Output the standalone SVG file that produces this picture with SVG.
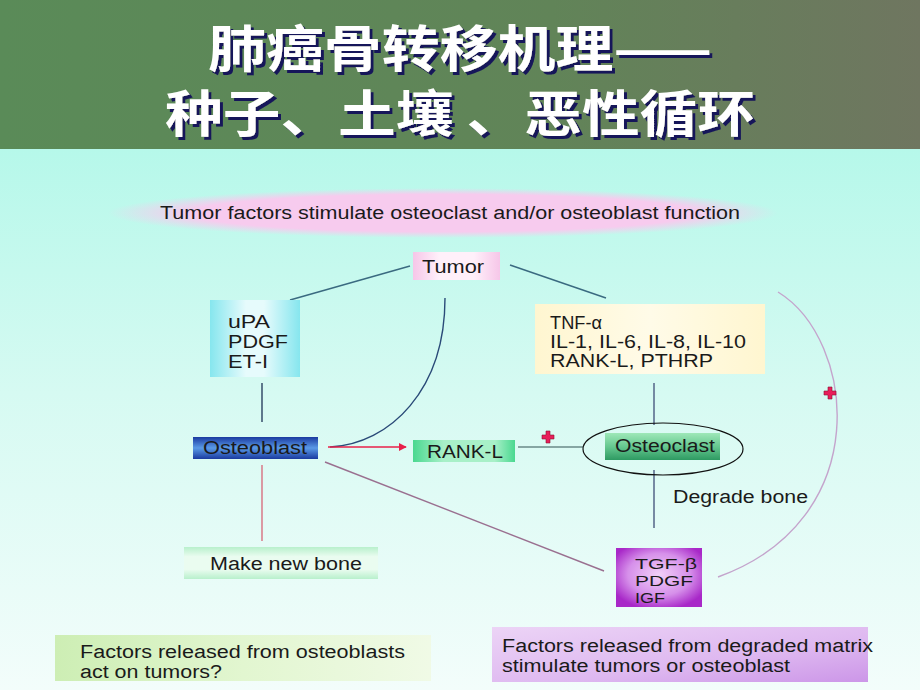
<svg xmlns="http://www.w3.org/2000/svg" width="920" height="690" viewBox="0 0 920 690">
<defs>
<linearGradient id="hdr" x1="0" y1="0" x2="1" y2="0">
<stop offset="0" stop-color="#5a8b58"/><stop offset="0.6" stop-color="#618458"/><stop offset="1" stop-color="#6f7660"/>
</linearGradient>
<linearGradient id="bg" x1="0" y1="0" x2="0" y2="1">
<stop offset="0" stop-color="#b6f8ea"/><stop offset="0.45" stop-color="#d6faf2"/><stop offset="1" stop-color="#f3fdfb"/>
</linearGradient>
<radialGradient id="pinkEll" cx="0.5" cy="0.5" r="0.5">
<stop offset="0.75" stop-color="#f7cbee"/><stop offset="1" stop-color="#f7cbee" stop-opacity="0"/>
</radialGradient>
<linearGradient id="pinkBox" x1="0" y1="0" x2="1" y2="0">
<stop offset="0" stop-color="#f6c6e8"/><stop offset="0.3" stop-color="#fff0fa"/><stop offset="0.7" stop-color="#fff0fa"/><stop offset="1" stop-color="#f6c6e8"/>
</linearGradient>
<linearGradient id="cyanBox" x1="0" y1="0" x2="1" y2="0">
<stop offset="0" stop-color="#86e6ee"/><stop offset="0.4" stop-color="#e6fbfc"/><stop offset="0.6" stop-color="#e6fbfc"/><stop offset="1" stop-color="#86e6ee"/>
</linearGradient>
<linearGradient id="blueBox" x1="0" y1="0" x2="0" y2="1">
<stop offset="0" stop-color="#1a3aa0"/><stop offset="0.5" stop-color="#5a9ae6"/><stop offset="1" stop-color="#1a3aa0"/>
</linearGradient>
<linearGradient id="greenBox" x1="0" y1="0" x2="1" y2="0">
<stop offset="0" stop-color="#4ad890"/><stop offset="0.3" stop-color="#a8f0c8"/><stop offset="0.8" stop-color="#a8f0c8"/><stop offset="1" stop-color="#4ad890"/>
</linearGradient>
<linearGradient id="ocBox" x1="0" y1="0" x2="0" y2="1">
<stop offset="0" stop-color="#9ee8b8"/><stop offset="0.5" stop-color="#66c890"/><stop offset="1" stop-color="#2e9a62"/>
</linearGradient>
<linearGradient id="yelBox" x1="0" y1="0" x2="1" y2="0">
<stop offset="0" stop-color="#fff6d0"/><stop offset="0.5" stop-color="#fffbe8"/><stop offset="1" stop-color="#fff6d0"/>
</linearGradient>
<radialGradient id="purBox" cx="0.5" cy="0.45" r="0.6">
<stop offset="0" stop-color="#f2d0f8"/><stop offset="0.6" stop-color="#d690ea"/><stop offset="1" stop-color="#a828c8"/>
</radialGradient>
<linearGradient id="newBone" x1="0" y1="0" x2="0" y2="1">
<stop offset="0" stop-color="#b8f0cc"/><stop offset="0.3" stop-color="#eafcf0"/><stop offset="0.7" stop-color="#eafcf0"/><stop offset="1" stop-color="#b8f0cc"/>
</linearGradient>
<linearGradient id="leftNote" x1="0" y1="0" x2="1" y2="0">
<stop offset="0" stop-color="#cdeeb4"/><stop offset="0.5" stop-color="#e2f6d0"/><stop offset="1" stop-color="#f0fae6"/>
</linearGradient>
<linearGradient id="rightNote" x1="0" y1="0" x2="1" y2="1">
<stop offset="0" stop-color="#ecd4f6"/><stop offset="0.6" stop-color="#deb8f0"/><stop offset="1" stop-color="#cc96e8"/>
</linearGradient>
<filter id="shadow" x="-5%" y="-10%" width="110%" height="130%">
<feDropShadow dx="3" dy="3" stdDeviation="0.6" flood-color="#14145a" flood-opacity="1"/>
</filter>
<marker id="redArrow" viewBox="0 0 10 10" refX="9" refY="5" markerWidth="8" markerHeight="8" markerUnits="userSpaceOnUse" orient="auto">
<path d="M0,0 L10,5 L0,10 z" fill="#e8204a"/>
</marker>
<g id="plus">
<path d="M-2,-6 h4 v4 h4 v4 h-4 v4 h-4 v-4 h-4 v-4 h4 z" fill="#e81e5a" stroke="#8a1030" stroke-width="0.6"/>
</g>
</defs>
<style>
.t{font-family:"Liberation Sans",Arial,sans-serif;font-size:18px;fill:#1a1a1a}
.small{font-size:15px}
.title{font-family:"Noto Sans CJK SC","Noto Sans CJK TC",sans-serif;font-size:50px;font-weight:bold;text-anchor:middle;fill:#ffffff}
.line{fill:none;stroke-width:1.4}
</style>

<rect x="0" y="0" width="920" height="149" fill="url(#hdr)"/>
<rect x="0" y="149" width="920" height="541" fill="url(#bg)"/>

<g id="title" filter="url(#shadow)">
<text class="title" x="460" y="67" textLength="504" lengthAdjust="spacingAndGlyphs">肺癌骨转移机理——</text>
<text class="title" x="460" y="132" textLength="590" lengthAdjust="spacingAndGlyphs">种子、土壤 、恶性循环</text>
</g>

<g id="connectors">
<path class="line" d="M410,266 L290,300" stroke="#3a6a80"/>
<path class="line" d="M510,265 L606,298" stroke="#3a6a80"/>
<path class="line" d="M445,298 C445,390 390,444 330,447" stroke="#2a4a78"/>
<path class="line" d="M262,383 L262,422" stroke="#2a4060" stroke-width="2"/>
<path class="line" d="M328,447 L406,447" stroke="#e8204a" stroke-width="1.6" marker-end="url(#redArrow)"/>
<path class="line" d="M518,447 L583,447" stroke="#6a8a88"/>
<path class="line" d="M654,383 L654,425" stroke="#4a5a80" stroke-width="2"/>
<path class="line" d="M654,470 L654,528" stroke="#4a5a80" stroke-width="2"/>
<path class="line" d="M325,462 L604,571" stroke="#9a7090"/>
<path class="line" d="M262,465 L262,541" stroke="#d87080" stroke-width="2"/>
<path class="line" d="M778,292 C856,340 876,520 718,577" stroke="#c4a4cc" stroke-width="1.6"/>
<use href="#plus" x="548" y="437"/>
<use href="#plus" x="830" y="393"/>
</g>

<g id="header-ellipse">
<ellipse cx="443" cy="213" rx="335" ry="25" fill="url(#pinkEll)"/>
<text class="t" x="160" y="219" textLength="580" lengthAdjust="spacingAndGlyphs">Tumor factors stimulate osteoclast and/or osteoblast function</text>
</g>

<g id="tumor">
<rect x="413" y="252" width="87" height="28" fill="url(#pinkBox)"/>
<text class="t" x="422" y="273" textLength="62" lengthAdjust="spacingAndGlyphs">Tumor</text>
</g>

<g id="upa">
<rect x="210" y="300" width="90" height="77" fill="url(#cyanBox)"/>
<text class="t" x="228" y="328" textLength="42" lengthAdjust="spacingAndGlyphs">uPA</text>
<text class="t" x="228" y="348" textLength="60" lengthAdjust="spacingAndGlyphs">PDGF</text>
<text class="t" x="228" y="368" textLength="40" lengthAdjust="spacingAndGlyphs">ET-I</text>
</g>

<g id="tnf">
<rect x="535" y="304" width="230" height="70" fill="url(#yelBox)"/>
<text class="t" x="550" y="329" textLength="52" lengthAdjust="spacingAndGlyphs">TNF-α</text>
<text class="t" x="550" y="348" textLength="196" lengthAdjust="spacingAndGlyphs">IL-1, IL-6, IL-8, IL-10</text>
<text class="t" x="550" y="367" textLength="163" lengthAdjust="spacingAndGlyphs">RANK-L, PTHRP</text>
</g>

<g id="osteoblast">
<rect x="193" y="437" width="125" height="22" fill="url(#blueBox)"/>
<text class="t" x="203" y="454" textLength="104" lengthAdjust="spacingAndGlyphs" fill="#0e1a4a">Osteoblast</text>
</g>

<g id="rankl">
<rect x="413" y="440" width="102" height="22" fill="url(#greenBox)"/>
<text class="t" x="427" y="458" textLength="76" lengthAdjust="spacingAndGlyphs" fill="#103a28">RANK-L</text>
</g>

<g id="osteoclast">
<rect x="605" y="433" width="115" height="27" fill="url(#ocBox)"/>
<text class="t" x="615" y="452" textLength="100" lengthAdjust="spacingAndGlyphs" fill="#103a28">Osteoclast</text>
<ellipse cx="663" cy="449" rx="80" ry="26" fill="none" stroke="#111" stroke-width="1.2"/>
</g>

<g id="degrade">
<text class="t" x="673" y="503" textLength="135" lengthAdjust="spacingAndGlyphs">Degrade bone</text>
</g>

<g id="tgf">
<rect x="616" y="548" width="86" height="59" fill="url(#purBox)"/>
<text class="t small" x="635" y="569" textLength="62" lengthAdjust="spacingAndGlyphs" fill="#2a1050">TGF-β</text>
<text class="t small" x="635" y="586" textLength="58" lengthAdjust="spacingAndGlyphs" fill="#2a1050">PDGF</text>
<text class="t small" x="635" y="603" textLength="30" lengthAdjust="spacingAndGlyphs" fill="#2a1050">IGF</text>
</g>

<g id="newbone">
<rect x="184" y="547" width="194" height="32" fill="url(#newBone)"/>
<text class="t" x="210" y="570" textLength="152" lengthAdjust="spacingAndGlyphs">Make new bone</text>
</g>

<g id="note-left">
<rect x="55" y="635" width="376" height="46" fill="url(#leftNote)"/>
<text class="t" x="80" y="658" textLength="325" lengthAdjust="spacingAndGlyphs">Factors released from osteoblasts</text>
<text class="t" x="80" y="678" textLength="142" lengthAdjust="spacingAndGlyphs">act on tumors?</text>
</g>

<g id="note-right">
<rect x="492" y="627" width="376" height="55" fill="url(#rightNote)"/>
<text class="t" x="502" y="652" textLength="371" lengthAdjust="spacingAndGlyphs">Factors released from degraded matrix</text>
<text class="t" x="502" y="672" textLength="288" lengthAdjust="spacingAndGlyphs">stimulate tumors or osteoblast</text>
</g>
</svg>
